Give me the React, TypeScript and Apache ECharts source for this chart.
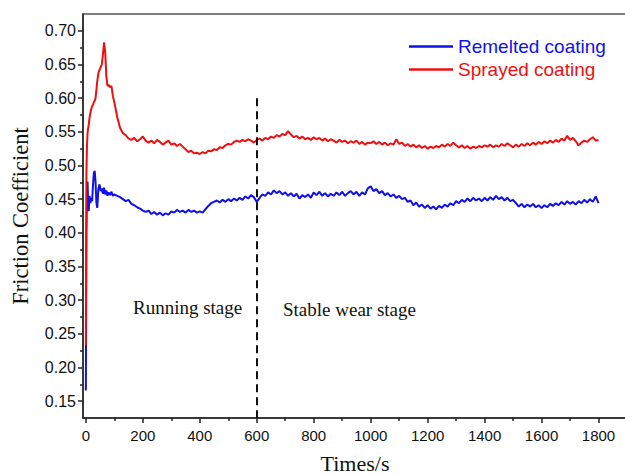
import React, { useEffect, useRef } from "react";
import * as echarts from "echarts";

const times: number[] = [
  0, 2, 4, 6, 8, 10, 13, 16, 19, 22, 25, 28, 31, 34, 37, 40, 44, 48, 52, 56, 60, 64, 68, 72, 76, 80, 85, 90, 95, 100,
  110, 120, 130, 140, 150, 160, 170, 180, 190, 200, 210, 220, 230, 240, 250, 260, 270, 280, 290, 300,
  310, 320, 330, 340, 350, 360, 370, 380, 390, 400, 410, 420, 430, 440, 450, 460, 470, 480, 490, 500,
  510, 520, 530, 540, 550, 560, 570, 580, 590, 600, 610, 620, 630, 640, 650, 660, 670, 680, 690, 700,
  710, 720, 730, 740, 750, 760, 770, 780, 790, 800, 810, 820, 830, 840, 850, 860, 870, 880, 890, 900,
  910, 920, 930, 940, 950, 960, 970, 980, 990, 1000, 1010, 1020, 1030, 1040, 1050, 1060, 1070, 1080, 1090, 1100,
  1110, 1120, 1130, 1140, 1150, 1160, 1170, 1180, 1190, 1200, 1210, 1220, 1230, 1240, 1250, 1260, 1270, 1280, 1290, 1300,
  1310, 1320, 1330, 1340, 1350, 1360, 1370, 1380, 1390, 1400, 1410, 1420, 1430, 1440, 1450, 1460, 1470, 1480, 1490, 1500,
  1510, 1520, 1530, 1540, 1550, 1560, 1570, 1580, 1590, 1600, 1610, 1620, 1630, 1640, 1650, 1660, 1670, 1680, 1690, 1700,
  1710, 1720, 1730, 1740, 1750, 1760, 1770, 1780, 1790, 1800,
];

const remelted: number[] = [
  0.166, 0.4, 0.465, 0.476, 0.445, 0.432, 0.455, 0.444, 0.452, 0.447, 0.47, 0.488, 0.492, 0.476, 0.445, 0.437, 0.465, 0.472, 0.462, 0.466, 0.458, 0.467, 0.457, 0.463, 0.455, 0.46, 0.456, 0.461, 0.455, 0.457,
  0.455, 0.453, 0.45, 0.447, 0.449, 0.443, 0.441, 0.438, 0.436, 0.433, 0.431, 0.433, 0.428, 0.431, 0.427, 0.43, 0.426, 0.429, 0.427, 0.432,
  0.43, 0.434, 0.431, 0.433, 0.43, 0.434, 0.431, 0.433, 0.43, 0.432, 0.43, 0.435, 0.44, 0.444, 0.446, 0.448, 0.445, 0.449, 0.446, 0.45,
  0.447, 0.451, 0.448, 0.452, 0.449, 0.454, 0.451, 0.456, 0.453, 0.446, 0.452, 0.457, 0.455, 0.46, 0.457, 0.463, 0.459, 0.462, 0.457, 0.46,
  0.455, 0.459, 0.454, 0.458, 0.451, 0.456, 0.453, 0.457, 0.452, 0.46, 0.456, 0.461, 0.455, 0.459, 0.454, 0.458, 0.455, 0.46, 0.456, 0.461,
  0.455, 0.459, 0.462, 0.457, 0.461, 0.455, 0.46, 0.457, 0.466, 0.469, 0.462, 0.465, 0.459, 0.462, 0.456, 0.459, 0.454, 0.457, 0.452, 0.455,
  0.45, 0.452, 0.446, 0.448, 0.441, 0.445, 0.439, 0.442, 0.437, 0.441, 0.436, 0.439, 0.435, 0.44, 0.437, 0.442, 0.439, 0.444, 0.441, 0.447,
  0.444, 0.449, 0.446, 0.451, 0.447, 0.452, 0.448, 0.451, 0.447, 0.452, 0.448, 0.453, 0.449, 0.455, 0.45, 0.453, 0.448, 0.452, 0.447, 0.449,
  0.444, 0.439, 0.443, 0.438, 0.442, 0.439, 0.443, 0.438, 0.441, 0.437, 0.441, 0.438, 0.443, 0.44, 0.444, 0.441, 0.446, 0.442, 0.447, 0.443,
  0.446, 0.442, 0.447, 0.444, 0.449, 0.445, 0.45, 0.446, 0.454, 0.444,
];

const sprayed: number[] = [
  0.233, 0.49, 0.53, 0.548, 0.555, 0.56, 0.571, 0.578, 0.584, 0.588, 0.59, 0.594, 0.596, 0.6, 0.612, 0.625, 0.637, 0.642, 0.646, 0.65, 0.665, 0.683, 0.668, 0.632, 0.618, 0.62, 0.616, 0.618, 0.603, 0.594,
  0.572, 0.556, 0.548, 0.545, 0.54, 0.538, 0.541, 0.536, 0.539, 0.543, 0.537, 0.534, 0.537, 0.533, 0.538, 0.535, 0.531, 0.534, 0.537, 0.531,
  0.533, 0.529, 0.532, 0.528, 0.524, 0.52, 0.522, 0.518, 0.519, 0.517, 0.52, 0.518, 0.522, 0.521, 0.524, 0.523, 0.527, 0.526, 0.53, 0.532,
  0.531, 0.535, 0.537, 0.535, 0.538, 0.536, 0.539, 0.537, 0.534, 0.538, 0.54, 0.537, 0.541, 0.539, 0.543, 0.541, 0.545, 0.543, 0.547, 0.545,
  0.551, 0.546, 0.542, 0.544, 0.54, 0.543, 0.539, 0.541, 0.538, 0.542, 0.539, 0.541, 0.537, 0.54, 0.536, 0.539, 0.537, 0.534, 0.538, 0.535,
  0.537, 0.533, 0.536, 0.534, 0.537, 0.532, 0.535, 0.531, 0.534, 0.533, 0.536, 0.532, 0.535, 0.531, 0.534, 0.53, 0.533, 0.531, 0.539, 0.532,
  0.534, 0.529, 0.532, 0.528, 0.531, 0.527, 0.53, 0.526, 0.529, 0.525, 0.528, 0.526, 0.529, 0.527, 0.531, 0.528, 0.532, 0.529, 0.534, 0.53,
  0.527, 0.53, 0.526, 0.529, 0.525, 0.528, 0.526, 0.529, 0.527, 0.53, 0.528, 0.531, 0.527, 0.53, 0.528, 0.532, 0.529, 0.533, 0.53, 0.527,
  0.531, 0.528, 0.532, 0.529, 0.533, 0.53, 0.534, 0.531, 0.535, 0.532, 0.536, 0.533, 0.537, 0.534, 0.538, 0.535, 0.54, 0.537, 0.544, 0.538,
  0.541, 0.536, 0.53, 0.534, 0.537, 0.535, 0.539, 0.542, 0.537, 0.538,
];

// tick label ranges
const xTickMin = 0;
const xTickMax = 1800;
const xTickStep = 200;
const yTickMin = 0.15;
const yTickMax = 0.7;
const yTickStep = 0.05;

const stageBoundary = 600;
const stageLineTop = 0.6;

export default function App() {
  const ref = useRef<HTMLDivElement>(null);

  useEffect(() => {
    if (!ref.current) return;
    const chart = echarts.init(ref.current, undefined, { renderer: "svg" });
    const sans = "Liberation Sans, Arial, sans-serif";
    const serif = "Liberation Serif, Times New Roman, serif";
    const xMin = -10;
    const xMax = 1900;
    const yMin = 0.125;
    const yMax = 0.725;
    const axisColor = "#222";

    // main plot box
    const gl = 83;
    const gt = 14;
    const gw = 544;
    const gh = 404;
    const pxX = (v: number) => gl + ((v - xMin) / (xMax - xMin)) * gw;
    const pxY = (v: number) => gt + ((yMax - v) / (yMax - yMin)) * gh;

    const option: any = {
      animation: false,
      backgroundColor: "#fff",
      grid: [
        {
          left: gl,
          top: gt,
          width: gw,
          height: gh,
          outerBoundsMode: "none",
          containLabel: false,
          show: true,
          borderColor: "#555",
          borderWidth: 1.5,
          backgroundColor: "transparent",
        },
        {
          left: pxX(xTickMin),
          width: pxX(xTickMax) - pxX(xTickMin),
          top: gt,
          height: gh,
          outerBoundsMode: "none",
          containLabel: false,
          show: false,
        },
        {
          left: gl,
          width: gw,
          top: pxY(yTickMax),
          height: pxY(yTickMin) - pxY(yTickMax),
          outerBoundsMode: "none",
          containLabel: false,
          show: false,
        },
      ],
      legend: {
        orient: "vertical",
        left: 409,
        top: 37,
        padding: 0,
        icon: "rect",
        itemWidth: 44,
        itemHeight: 2.5,
        itemGap: 4,
        textStyle: { fontSize: 19, fontFamily: sans },
        data: [
          { name: "Remelted coating", textStyle: { color: "#1010e8" } },
          { name: "Sprayed coating", textStyle: { color: "#ee1010" } },
        ],
      },
      xAxis: [
        {
          gridIndex: 0,
          type: "value",
          min: xMin,
          max: xMax,
          position: "bottom",
          axisLine: { show: true, onZero: false, lineStyle: { color: axisColor, width: 1.5 } },
          axisTick: { show: false },
          axisLabel: { show: false },
          splitLine: { show: false },
          name: "Times/s",
          nameLocation: "middle",
          nameGap: 34,
          nameTextStyle: { fontSize: 22, fontFamily: serif, color: "#111" },
        },
        {
          gridIndex: 1,
          type: "value",
          min: xTickMin,
          max: xTickMax,
          interval: xTickStep,
          position: "bottom",
          axisLine: { show: true, onZero: false, lineStyle: { color: "transparent" } },
          axisTick: { show: true, length: 5, lineStyle: { color: axisColor, width: 1.5 } },
          minorTick: { show: true, splitNumber: 2, length: 3, lineStyle: { color: axisColor, width: 1.5 } },
          axisLabel: {
            formatter: (v: number) => String(v),
            fontSize: 15,
            fontFamily: sans,
            color: "#111",
            margin: 10,
          },
          splitLine: { show: false },
        },
        {
          gridIndex: 2,
          type: "value",
          min: xMin,
          max: xMax,
          show: false,
        },
      ],
      yAxis: [
        {
          gridIndex: 0,
          type: "value",
          min: yMin,
          max: yMax,
          position: "left",
          axisLine: { show: true, onZero: false, lineStyle: { color: axisColor, width: 1.5 } },
          axisTick: { show: false },
          axisLabel: { show: false },
          splitLine: { show: false },
          name: "Friction Coefficient",
          nameLocation: "middle",
          nameGap: 51,
          nameTextStyle: { fontSize: 22.5, fontFamily: serif, color: "#111" },
        },
        {
          gridIndex: 1,
          type: "value",
          min: yMin,
          max: yMax,
          show: false,
        },
        {
          gridIndex: 2,
          type: "value",
          min: yTickMin,
          max: yTickMax,
          interval: yTickStep,
          position: "left",
          axisLine: { show: true, onZero: false, lineStyle: { color: "transparent" } },
          axisTick: { show: true, length: 5, lineStyle: { color: axisColor, width: 1.5 } },
          minorTick: { show: true, splitNumber: 2, length: 3, lineStyle: { color: axisColor, width: 1.5 } },
          axisLabel: {
            formatter: (v: number) => v.toFixed(2),
            fontSize: 16,
            fontFamily: sans,
            color: "#111",
            margin: 7,
          },
          splitLine: { show: false },
        },
      ],
      series: [
        {
          name: "Remelted coating",
          type: "line",
          xAxisIndex: 0,
          yAxisIndex: 0,
          data: times.map((t, i) => [t, remelted[i]]),
          showSymbol: false,
          symbol: "none",
          color: "#1010e8",
          lineStyle: { color: "#1010e8", width: 2 },
          z: 3,
        },
        {
          name: "Sprayed coating",
          type: "line",
          xAxisIndex: 0,
          yAxisIndex: 0,
          data: times.map((t, i) => [t, sprayed[i]]),
          showSymbol: false,
          symbol: "none",
          color: "#ee1010",
          lineStyle: { color: "#ee1010", width: 2 },
          z: 3,
          markLine: {
            silent: true,
            symbol: "none",
            label: { show: false },
            lineStyle: { color: "#111", width: 2, type: [8, 5] },
            data: [
              [
                { coord: [stageBoundary, stageLineTop] },
                { coord: [stageBoundary, yMin] },
              ],
            ],
          },
        },
      ],
      graphic: [
        {
          type: "text",
          left: 133,
          top: 298,
          style: { text: "Running stage", font: `19px ${serif}`, fill: "#111" },
        },
        {
          type: "text",
          left: 283,
          top: 300,
          style: { text: "Stable wear stage", font: `19px ${serif}`, fill: "#111" },
        },
      ],
    };

    chart.setOption(option);
    return () => chart.dispose();
  }, []);

  return (
    <div
      ref={ref}
      style={{ position: "fixed", left: 0, top: 0, width: 625, height: 474 }}
    />
  );
}
